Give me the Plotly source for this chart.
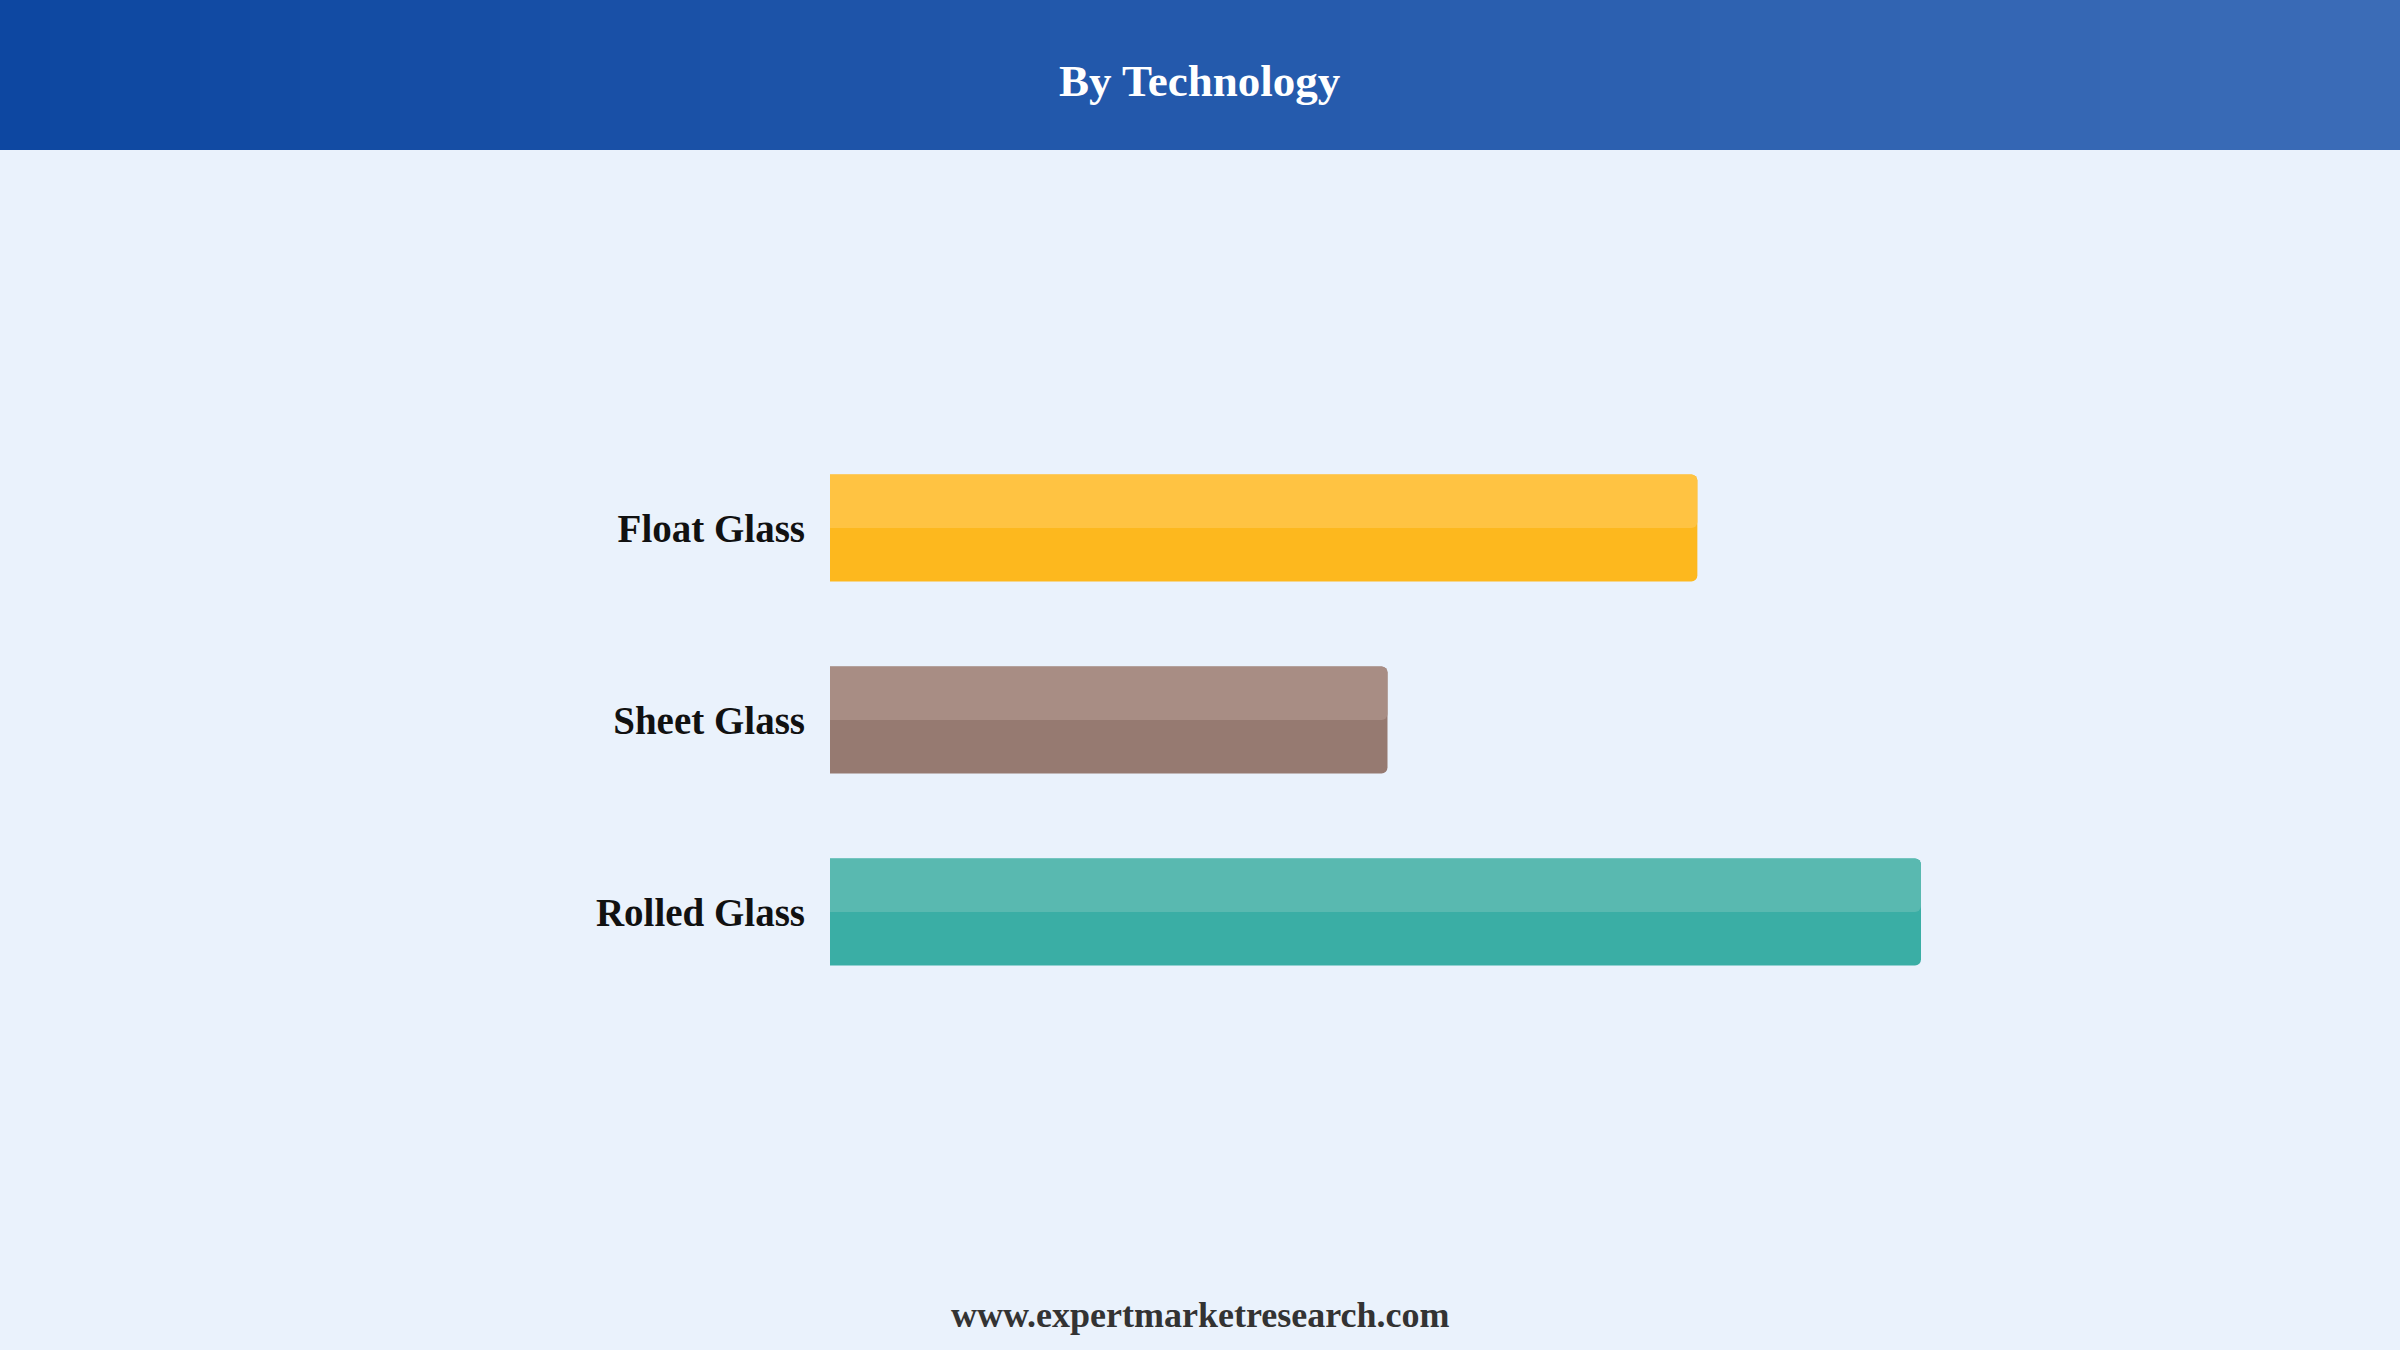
import plotly.graph_objects as go

# ---- data ----
categories = ["Float Glass", "Sheet Glass", "Rolled Glass"]
values = [79.5, 51.1, 100.0]
base_colors = ["#FDB81E", "#967A71", "#3AAEA5"]
highlight_colors = ["#FFC342", "#A88D84", "#59B9B0"]
title_text = "By Technology"
footer_text = "www.expertmarketresearch.com"

W, H = 2400, 1350
BG = "#EAF2FC"
SERIF = "Liberation Serif, Times New Roman, serif"
bar_w = 0.557

fig = go.Figure()
fig.add_trace(go.Bar(
    orientation="h", x=values, y=categories, width=bar_w,
    marker=dict(color=base_colors, line=dict(width=0)),
    hoverinfo="skip", showlegend=False,
))
fig.add_trace(go.Bar(
    orientation="h", x=values, y=categories, width=bar_w / 2, offset=-bar_w / 2,
    marker=dict(color=highlight_colors, line=dict(width=0)),
    hoverinfo="skip", showlegend=False,
))

# header gradient band (decoration)
def lerp(c1, c2, t):
    return "#%02X%02X%02X" % tuple(round(a + (b - a) * t) for a, b in zip(c1, c2))

left_c, right_c = (13, 71, 161), (59, 108, 183)
n = 48
shapes = []
for i in range(n):
    shapes.append(dict(
        type="rect", xref="paper", yref="paper",
        x0=i / n, x1=(i + 1) / n + 0.002, y0=1 - 150 / H, y1=1,
        fillcolor=lerp(left_c, right_c, i / (n - 1)), line=dict(width=0), layer="below",
    ))

fig.update_layout(
    width=W, height=H,
    margin=dict(l=0, r=0, t=0, b=0),
    paper_bgcolor=BG, plot_bgcolor=BG,
    barmode="overlay", barcornerradius=6,
    shapes=shapes,
    xaxis=dict(domain=[830 / W, 1921 / W], range=[0, 100], visible=False,
               showgrid=False, zeroline=False, fixedrange=True),
    yaxis=dict(domain=[1 - 1008 / H, 1 - 432 / H], autorange="reversed",
               showgrid=False, zeroline=False, showline=False, ticks="",
               ticklabelstandoff=24,
               tickfont=dict(family=SERIF, size=39, color="#111111", weight="bold"),
               fixedrange=True),
    annotations=[
        dict(text=title_text, xref="paper", yref="paper", x=0.5, y=1 - 81 / H,
             xanchor="center", yanchor="middle", showarrow=False,
             font=dict(family=SERIF, size=45, color="#FFFFFF", weight="bold")),
        dict(text=footer_text, xref="paper", yref="paper", x=0.5, y=1 - 1315 / H,
             xanchor="center", yanchor="middle", showarrow=False,
             font=dict(family=SERIF, size=36, color="#333333", weight="bold")),
    ],
)

fig.write_html("out.html", config={"displayModeBar": False},
               post_script="document.body.style.margin='0';document.body.style.background='%s';" % BG)
